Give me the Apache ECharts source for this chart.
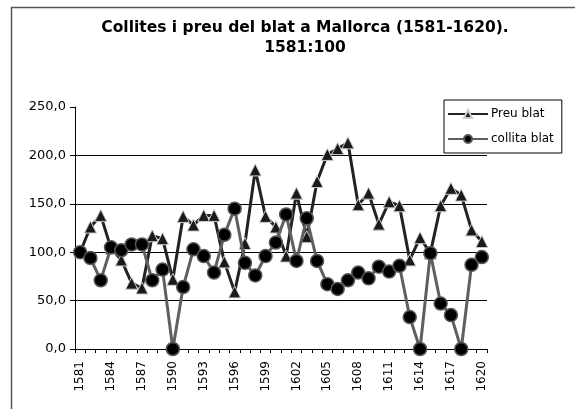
<!DOCTYPE html>
<html>
<head>
<meta charset="utf-8">
<script src="https://cdn.jsdelivr.net/npm/echarts@6/dist/echarts.min.js"></script>
<style>
  html, body { margin: 0; padding: 0; background: #fff; }
  #chart { width: 575px; height: 409px; }
</style>
</head>
<body>
<div id="chart"></div>
<script>
const years = [];
for (let y = 1581; y <= 1620; y++) years.push(String(y));

// index 1581 = 100
const preuBlat = [100, 126, 138, 104, 92, 68, 63, 117, 114, 72,
    137, 128, 138, 138, 90, 59, 109, 185, 137, 126,
    96, 161, 116, 173, 201, 207, 213, 149, 161, 129,
    152, 148, 92, 115, 99, 148, 166, 159, 123, 111];
const collitaBlat = [100, 94, 71, 105, 102, 108, 108, 71, 82, 0,
    64, 103, 96, 79, 118, 145, 89, 76, 96, 110,
    139, 91, 135, 91, 67, 62, 71, 79, 73, 85,
    80, 86, 33, 0, 99, 47, 35, 0, 87, 95];

const chart = echarts.init(document.getElementById('chart'));

const font = 'DejaVu Sans, Arial, sans-serif';

chart.setOption({
    animation: false,
    backgroundColor: '#fff',
    title: {
        text: 'Collites i preu del blat a Mallorca (1581-1620).\n1581:100',
        left: 300,
        textAlign: 'center',
        top: 13,
        textStyle: {
            fontFamily: font,
            fontSize: 15.5,
            fontWeight: 'bold',
            color: '#000',
            lineHeight: 20
        }
    },
    graphic: [{
        type: 'rect',
        shape: { x: 11.5, y: 7.5, width: 620, height: 500 },
        style: { fill: null, stroke: '#555', lineWidth: 1.5 },
        silent: true
    }],
    legend: {
        orient: 'vertical',
        left: 444,
        top: 100,
        backgroundColor: '#fff',
        borderColor: '#000',
        borderWidth: 1,
        borderRadius: 0,
        padding: [8, 8, 8, 3],
        itemGap: 13,
        itemWidth: 40,
        itemHeight: 10,
        textStyle: { fontFamily: font, fontSize: 12, color: '#000', padding: [0, 0, 0, -2] },
        data: ['Preu blat', 'collita blat']
    },
    grid: { left: 75, right: 88, top: 107, bottom: 60 },
    xAxis: {
        type: 'category',
        data: years,
        boundaryGap: true,
        axisLine: { lineStyle: { color: '#000', width: 1 } },
        axisTick: { show: true, interval: 0, length: 4, lineStyle: { color: '#000' } },
        axisLabel: {
            interval: 2,
            rotate: 90,
            fontFamily: font,
            fontSize: 12,
            color: '#000',
            margin: 12
        }
    },
    yAxis: {
        type: 'value',
        min: 0,
        max: 250,
        interval: 50,
        axisLine: { show: true, lineStyle: { color: '#000', width: 1 } },
        axisTick: { show: true, length: 5, lineStyle: { color: '#000' } },
        axisLabel: {
            fontFamily: font,
            fontSize: 13,
            color: '#000',
            margin: 9,
            formatter: v => v.toFixed(1).replace('.', ',')
        },
        splitLine: {
            show: true,
            lineStyle: {
                color: ['#000', '#000', '#000', '#000', '#000', 'rgba(0,0,0,0)'],
                width: 1
            }
        }
    },
    series: [
        {
            name: 'Preu blat',
            type: 'line',
            data: preuBlat,
            symbol: 'triangle',
            symbolSize: 12,
            showAllSymbol: true,
            lineStyle: { color: '#222', width: 3 },
            itemStyle: { color: '#1a1a1a', borderColor: '#ccc', borderWidth: 1 },
            z: 2
        },
        {
            name: 'collita blat',
            type: 'line',
            data: collitaBlat,
            symbol: 'circle',
            symbolSize: 13,
            showAllSymbol: true,
            lineStyle: { color: '#5f5f5f', width: 3 },
            itemStyle: { color: '#000', borderColor: '#555', borderWidth: 1.5 },
            z: 3
        }
    ]
});
</script>
</body>
</html>
